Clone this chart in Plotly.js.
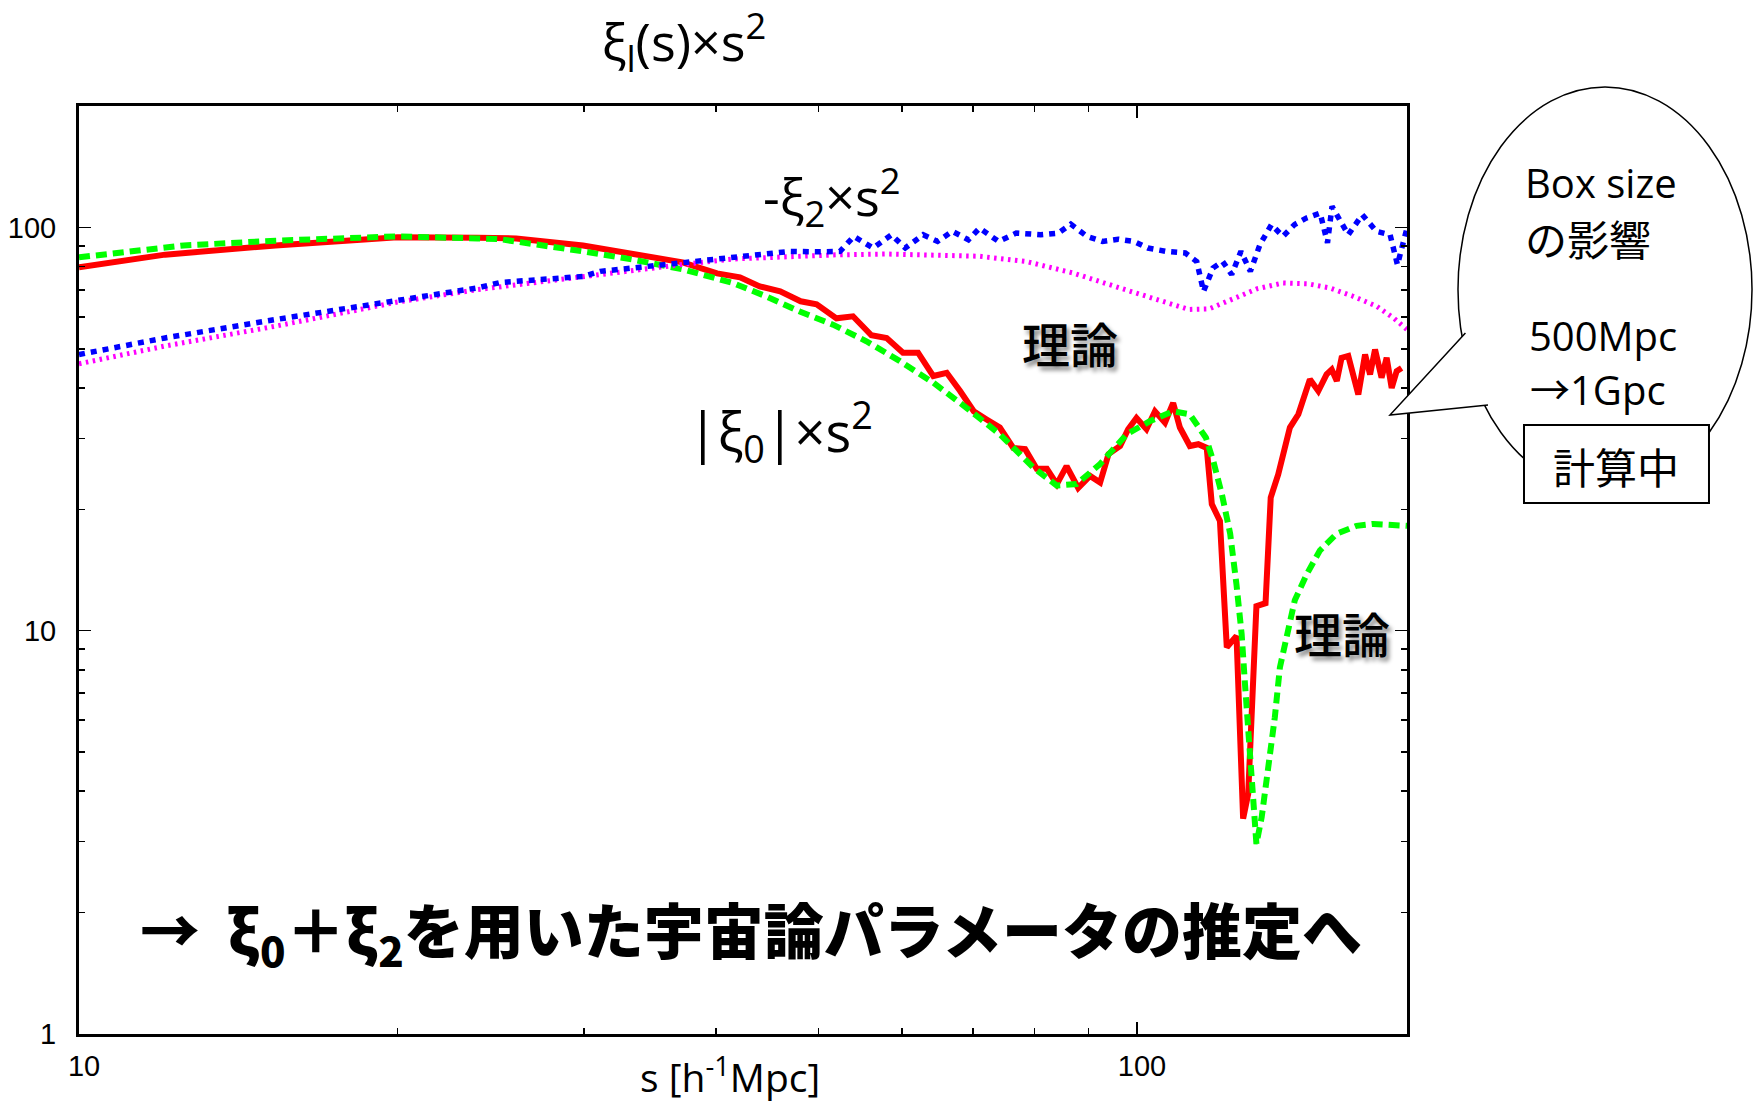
<!DOCTYPE html>
<html>
<head>
<meta charset="utf-8">
<script src="https://cdn.plot.ly/plotly-3.0.1.min.js"></script>
<style>
  html, body { margin: 0; padding: 0; background: #ffffff; }
  #chart { width: 1758px; height: 1103px; }
</style>
</head>
<body>
<div id="chart"></div>
<script>
// Monopole |xi_0| x s^2 : simulation measurement
const sXi0Sim = [10, 12.06, 15.34, 17.5, 20.0, 23.8, 25.9, 29.95, 33.4, 37.2, 40.1, 42.15, 44.0, 46.0, 48.1, 49.8, 52.0, 53.9, 56.1, 58.0, 60.1, 62.1, 64.2, 66.1, 68.05, 70.1, 72.1, 74.2, 76.4, 78.4, 80.4, 82.2, 84.0, 85.8, 88.0, 90.3, 92.3, 94.0, 96.4, 98.1, 99.9, 102.1, 104.0, 106.3, 108.2, 109.8, 112.2, 114.3, 116.4, 117.7, 119.8, 121.6, 124.2, 126.0, 127.4, 129.7, 132.3, 133.8, 136.0, 139.5, 142.1, 145.7, 148.4, 151.1, 152.8, 154.5, 156.1, 158.4, 161.9, 164.3, 166.1, 167.9, 170.3, 172.2, 174.1, 176.0, 177.9];
const xi0Sim  = [79.6, 85.6, 90.2, 92.0, 94.5, 94.3, 93.9, 90.2, 86.2, 81.9, 76.9, 75.2, 71.4, 69.4, 65.6, 64.5, 59.5, 60.2, 54.0, 53.2, 48.9, 48.9, 42.8, 43.6, 39.3, 35.0, 33.4, 31.9, 28.4, 28.2, 25.2, 25.2, 23.1, 25.6, 22.6, 24.2, 23.3, 27.4, 28.7, 31.6, 33.7, 31.6, 35.0, 32.8, 36.7, 31.9, 28.7, 29.0, 28.4, 20.6, 18.7, 9.1, 9.7, 3.42, 3.94, 11.5, 11.7, 21.4, 24.4, 31.9, 34.4, 42.0, 39.3, 43.2, 44.4, 41.6, 47.5, 48.0, 38.5, 48.4, 43.2, 49.8, 42.4, 47.5, 40.0, 44.0, 44.8];

// Monopole |xi_0| x s^2 : linear theory
const sXi0Th = [10, 12.56, 15.34, 20.0, 23.8, 25.0, 29.95, 33.4, 37.3, 41.5, 44.6, 48.0, 51.6, 55.5, 59.7, 64.2, 69.0, 74.2, 79.8, 84.0, 87.7, 92.3, 97.8, 102.9, 108.2, 112.2, 116.2, 118.1, 120.3, 122.5, 124.2, 125.6, 126.5, 127.4, 128.4, 129.7, 131.2, 133.1, 135.0, 136.5, 138.5, 141.0, 144.7, 148.9, 154.5, 161.3, 167.3, 180];
const xi0Th  = [84.3, 90.2, 92.7, 95.0, 93.9, 93.5, 87.2, 83.2, 78.6, 72.8, 67.5, 61.9, 57.4, 52.2, 46.6, 41.2, 35.7, 30.7, 25.4, 22.9, 23.1, 25.9, 30.7, 33.1, 35.0, 34.4, 30.1, 26.3, 21.8, 17.4, 13.0, 9.8, 7.4, 5.55, 4.17, 2.96, 3.45, 4.59, 6.10, 8.11, 9.8, 11.9, 13.8, 15.8, 17.4, 18.2, 18.4, 18.2];

// Quadrupole -xi_2 x s^2 : simulation measurement
const sXi2Sim = [10, 12.06, 15.34, 20.0, 23.8, 25.0, 29.95, 31.1, 35.9, 38.6, 41.5, 44.6, 47.0, 50.0, 52.4, 54.0, 56.3, 58.6, 60.4, 62.8, 64.8, 66.9, 69.3, 71.0, 74.0, 76.9, 81.1, 84.3, 86.6, 89.7, 92.8, 96.0, 99.3, 102.4, 106.6, 111.1, 113.9, 115.6, 118.0, 120.5, 122.9, 125.4, 128.0, 130.7, 134.0, 137.4, 140.9, 144.5, 149.0, 151.4, 152.9, 158.4, 163.3, 168.4, 173.5, 176.3, 180];
const xi2Sim  = [48.4, 53.2, 59.1, 66.2, 70.8, 73.0, 75.6, 77.8, 81.0, 82.7, 83.9, 85.6, 87.2, 87.0, 87.2, 95.0, 88.9, 95.9, 88.9, 95.9, 92.3, 97.8, 93.2, 99.6, 92.3, 96.8, 95.9, 96.8, 101.9, 95.0, 92.3, 93.5, 92.3, 88.9, 87.2, 86.4, 82.3, 69.4, 79.3, 82.3, 76.4, 87.2, 77.8, 90.6, 101.6, 95.0, 101.6, 105.4, 108.5, 91.5, 112.7, 95.9, 107.5, 97.8, 95.9, 80.8, 99.6];

// Quadrupole -xi_2 x s^2 : linear theory
const sXi2Th = [10, 12.06, 15.34, 20.0, 23.8, 29.95, 33.4, 37.3, 41.5, 47.3, 52.0, 58.0, 64.0, 71.0, 78.6, 87.0, 96.3, 106.6, 111.9, 117.0, 124.2, 130.0, 137.4, 145.0, 152.1, 160.0, 168.4, 175.0, 180];
const xi2Th  = [45.9, 50.8, 56.9, 65.3, 70.1, 75.6, 78.3, 81.0, 83.5, 84.8, 85.5, 85.9, 85.6, 84.8, 82.3, 77.1, 70.8, 64.9, 62.6, 62.8, 66.8, 70.5, 72.8, 72.5, 70.8, 67.5, 63.8, 59.5, 55.8];

// Axis extents and tick labels
const sRange = [10, 180];
const yRange = [1, 200];
const xTickVals = [10, 100];
const xTickText = ['10', '100'];
const xMinorVals = [20, 30, 40, 50, 60, 70, 80, 90];
const yTickVals = [1, 10, 100];
const yTickText = ['1', '10', '100'];
const yMinorVals = [2, 3, 4, 5, 6, 7, 8, 9, 20, 30, 40, 50, 60, 70, 80, 90];

const latin = 'Open Sans, Noto Sans, Noto Sans CJK JP, sans-serif';
const cjk = 'Noto Sans CJK JP, Noto Sans, sans-serif';
const tickFont = { family: 'Liberation Sans Narrow, Liberation Sans, Arial, sans-serif', size: 29, color: '#000' };

const traces = [
  { x: sXi0Sim, y: xi0Sim, mode: 'lines', name: '|ξ0| sim',
    line: { color: '#ff0000', width: 6 } },
  { x: sXi0Th, y: xi0Th, mode: 'lines', name: '|ξ0| theory',
    line: { color: '#00ff00', width: 6, dash: '11px,6px' } },
  { x: sXi2Th, y: xi2Th, mode: 'lines', name: '-ξ2 theory',
    line: { color: '#ff00ff', width: 5, dash: '2.5px,4.5px' } },
  { x: sXi2Sim, y: xi2Sim, mode: 'lines', name: '-ξ2 sim',
    line: { color: '#0000ff', width: 5.5, dash: '6px,6px' } }
];

const axisCommon = {
  type: 'log',
  showgrid: false,
  zeroline: false,
  showline: true,
  linecolor: '#000',
  linewidth: 3,
  mirror: 'ticks',
  ticks: 'inside',
  ticklen: 12,
  tickwidth: 1.5,
  tickcolor: '#000',
  tickmode: 'array',
  tickfont: tickFont
};

const layout = {
  width: 1758,
  height: 1103,
  margin: { l: 79, r: 351, t: 106, b: 69 },
  paper_bgcolor: '#ffffff',
  plot_bgcolor: '#ffffff',
  showlegend: false,
  title: {
    text: 'ξ<sub>l</sub>(s)×s<sup>2</sup>',
    font: { family: latin, size: 52, color: '#000' },
    xref: 'paper', x: 0.4556, xanchor: 'center',
    yref: 'container', y: 1 - 43 / 1103, yanchor: 'middle'
  },
  xaxis: Object.assign({}, axisCommon, {
    range: sRange.map(Math.log10),
    tickvals: xTickVals,
    ticktext: xTickText,
    ticklabelstandoff: 4,
    ticklabelshift: 5,
    minor: { tickmode: 'array', tickvals: xMinorVals, ticks: 'inside', ticklen: 6, tickwidth: 1.5, tickcolor: '#000', showgrid: false }
  }),
  yaxis: Object.assign({}, axisCommon, {
    range: yRange.map(Math.log10),
    tickvals: yTickVals,
    ticktext: yTickText,
    ticklabelstandoff: 14,
    minor: { tickmode: 'array', tickvals: yMinorVals, ticks: 'inside', ticklen: 6, tickwidth: 1.5, tickcolor: '#000', showgrid: false }
  }),
  shapes: [
    // speech bubble
    { type: 'circle', xref: 'paper', yref: 'paper', x0: 1.0384, x1: 1.2598, y0: 0.584, y1: 1.0205,
      fillcolor: '#ffffff', line: { color: '#000', width: 1.5 }, layer: 'above' },
    { type: 'path', xref: 'paper', yref: 'paper',
      path: 'M 1.0440,0.7554 L 0.9872,0.667 L 1.0610,0.6778',
      fillcolor: '#ffffff', line: { color: '#000', width: 1.5 }, layer: 'above' },
    // status box
    { type: 'rect', xref: 'paper', yref: 'paper', x0: 1.0881, x1: 1.2274, y0: 0.5722, y1: 0.6562,
      fillcolor: '#ffffff', line: { color: '#000', width: 2 }, layer: 'above' }
  ],
  annotations: [
    { text: '-ξ<sub>2</sub>×s<sup>2</sup>', xref: 'paper', yref: 'paper', x: 0.567, y: 0.902,
      showarrow: false, xanchor: 'center', yanchor: 'middle', font: { family: latin, size: 52, color: '#000' } },
    { text: '|ξ<sub>0</sub>|×s<sup>2</sup>', xref: 'paper', yref: 'paper', x: 0.528, y: 0.649,
      showarrow: false, xanchor: 'center', yanchor: 'middle', font: { family: latin, size: 54, color: '#000' } },
    { text: '理論', xref: 'paper', yref: 'paper', x: 0.746, y: 0.746,
      showarrow: false, xanchor: 'center', yanchor: 'middle',
      font: { family: cjk, size: 48, color: '#000', weight: 500, shadow: '3px 4px 4px rgba(0,0,0,0.45)' } },
    { text: '理論', xref: 'paper', yref: 'paper', x: 0.951, y: 0.433,
      showarrow: false, xanchor: 'center', yanchor: 'middle',
      font: { family: cjk, size: 48, color: '#000', weight: 500, shadow: '3px 4px 4px rgba(0,0,0,0.45)' } },
    { text: '→  ξ<sub>0</sub>＋ξ<sub>2</sub>を用いた宇宙論パラメータの推定へ', xref: 'paper', yref: 'paper', x: 0.506, y: 0.110,
      showarrow: false, xanchor: 'center', yanchor: 'middle',
      font: { family: cjk, size: 60, color: '#000', weight: 900 } },
    { text: 's [h<sup>-1</sup>Mpc]', xref: 'paper', yref: 'paper', x: 0.490, y: -0.0440,
      showarrow: false, xanchor: 'center', yanchor: 'middle', font: { family: latin, size: 39, color: '#000' } },
    // bubble text
    { text: 'Box size', xref: 'paper', yref: 'paper', x: 1.0873, y: 0.918,
      showarrow: false, xanchor: 'left', yanchor: 'middle', font: { family: latin, size: 40, color: '#000' } },
    { text: 'の影響', xref: 'paper', yref: 'paper', x: 1.0873, y: 0.858,
      showarrow: false, xanchor: 'left', yanchor: 'middle', font: { family: cjk, size: 42, color: '#000' } },
    { text: '500Mpc', xref: 'paper', yref: 'paper', x: 1.0904, y: 0.753,
      showarrow: false, xanchor: 'left', yanchor: 'middle', font: { family: latin, size: 40, color: '#000' } },
    { text: '→1Gpc', xref: 'paper', yref: 'paper', x: 1.0911, y: 0.694,
      showarrow: false, xanchor: 'left', yanchor: 'middle', font: { family: latin, size: 40, color: '#000' } },
    { text: '計算中', xref: 'paper', yref: 'paper', x: 1.1574, y: 0.6131,
      showarrow: false, xanchor: 'center', yanchor: 'middle', font: { family: cjk, size: 42, color: '#000' } }
  ]
};

Plotly.newPlot('chart', traces, layout, { staticPlot: true, displayModeBar: false });
</script>
</body>
</html>
